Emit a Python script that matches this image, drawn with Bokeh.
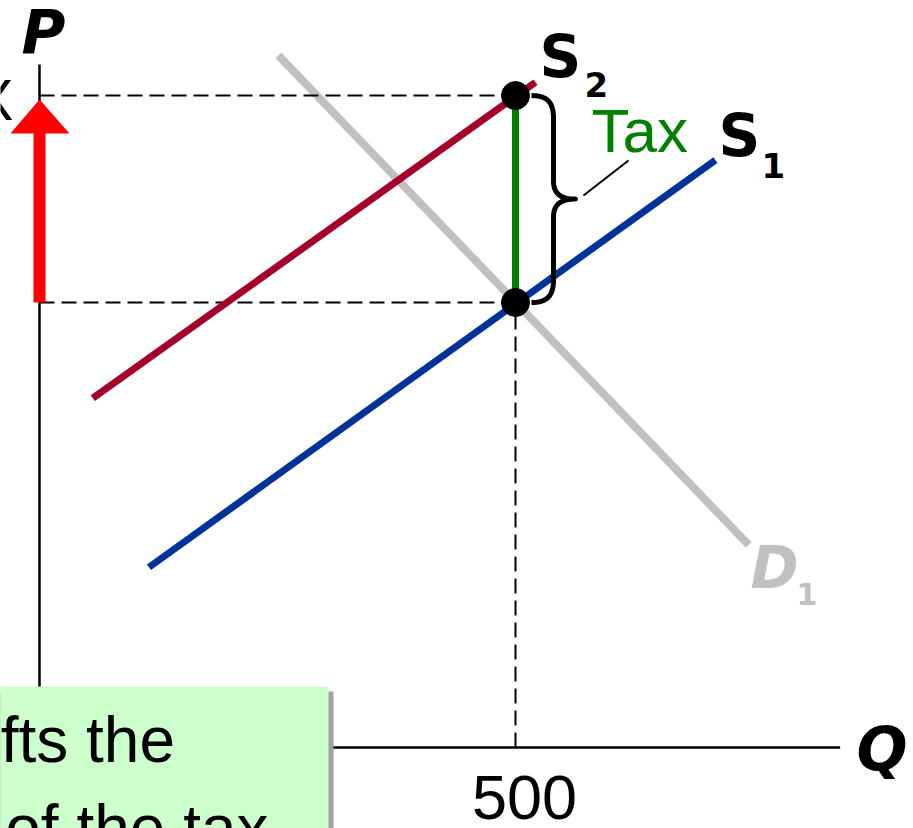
import numpy as np
from bokeh.plotting import figure
from bokeh.models import Range1d
from bokeh.core.properties import value
from bokeh.embed import file_html
from bokeh.resources import INLINE

# ---- data (Q = quantity, P = price) ----
s1_q = [115, 710]
s1_p = [40.5, 132.0]
s2_q = [56, 521]
s2_p = [78.5, 149.5]
d1_q = [251, 745]
d1_p = [155.5, 45.5]
q_eq = 500
p_before = 100.0
p_after = 146.5
q_tick_labels = ["500"]
q_axis_end = 841
p_axis_end = 153.5

# ---- layout helpers (picture pixels -> data units) ----
QPX = 0.952   # px per Q unit
PPX = 4.45    # px per P unit
X0, Y0 = 39, 747   # picture px of origin


def qx(px):
    return (px - X0) / QPX


def py(px):
    return (Y0 - px) / PPX


W, H = 913, 828
p = figure(width=W, height=H,
           x_range=Range1d(qx(0), qx(W)),
           y_range=Range1d(py(H), py(0)),
           output_backend="svg", toolbar_location=None,
           x_axis_location=None, y_axis_location=None,
           min_border=0, outline_line_color=None)
p.grid.visible = False
p.background_fill_color = "white"
p.border_fill_color = "white"

# axes
p.line([0, 0], [0, p_axis_end], line_color="black", line_width=2.5)
p.line([0, q_axis_end], [0, 0], line_color="black", line_width=2.5)

# demand
p.line(d1_q, d1_p, line_color="#c0c0c0", line_width=8)

# dashed guides
dash = "15 7"
p.line([0, q_eq], [p_after, p_after], line_color="black", line_width=2, line_dash=dash)
p.line([0, q_eq], [p_before, p_before], line_color="black", line_width=2, line_dash=dash)
p.line([q_eq, q_eq], [0, p_before], line_color="black", line_width=2, line_dash=dash)

# supply curves
p.line(s2_q, s2_p, line_color="#a5002a", line_width=7)
p.line(s1_q, s1_p, line_color="#003399", line_width=7)

# tax wedge
p.line([q_eq, q_eq], [p_before, p_after], line_color="#008000", line_width=7)
p.scatter([q_eq, q_eq], [p_before, p_after], size=28, color="black")


# brace to the right of the tax wedge (built in pixel offsets from the wedge)
def cubic(p0, c1, c2, p3, n=20):
    t = np.linspace(0, 1, n)[:, None]
    pts = ((1 - t) ** 3) * np.array(p0) + 3 * ((1 - t) ** 2) * t * np.array(c1) \
        + 3 * (1 - t) * t ** 2 * np.array(c2) + t ** 3 * np.array(p3)
    return pts


top_px = Y0 - p_after * PPX
bot_px = Y0 - p_before * PPX
mid_px = (top_px + bot_px) / 2
ex = X0 + q_eq * QPX
a, b, c = ex + 16, ex + 38, ex + 60
segs = [
    cubic((a, top_px), (a + 17, top_px), (b, top_px + 8), (b, top_px + 23)),
    cubic((b, top_px + 23), (b, top_px + 50), (b, mid_px - 30), (b, mid_px - 18)),
    cubic((b, mid_px - 18), (b, mid_px - 4), (b + 9, mid_px), (c, mid_px)),
    cubic((c, mid_px), (b + 9, mid_px), (b, mid_px + 4), (b, mid_px + 18)),
    cubic((b, mid_px + 18), (b, mid_px + 30), (b, bot_px - 50), (b, bot_px - 23)),
    cubic((b, bot_px - 23), (b, bot_px - 8), (a + 17, bot_px), (a, bot_px)),
]
pts = np.vstack(segs)
p.line(qx(pts[:, 0]), py(pts[:, 1]), line_color="black", line_width=5, line_join="round")
# leader line to "Tax"
p.line([qx(583), qx(628)], [py(195), py(160)], line_color="black", line_width=2)

# red arrow on the price axis
p.line([0, 0], [p_before, py(132)], line_color="#ff0000", line_width=12)
p.patch([qx(10), qx(69), 0], [py(133), py(133), py(99)], color="#ff0000", line_width=0)

# labels
dv = value("DejaVu Sans")
ls = value("Liberation Sans")


def label(x_px, base_px, txt, fs, font, style="normal", align="left", color="black"):
    # place by the text's baseline in picture pixels
    p.text([qx(x_px)], [py(base_px - 0.39 * fs)], text=[txt], text_font=font,
           text_font_style=style, text_font_size=f"{fs}px", text_align=align,
           text_baseline="alphabetic", text_color=color)


label(43, 55, "P", 60, dv, "bold italic", "center")
label(856, 772, "Q", 60, dv, "bold italic")
label(13, 122, "X", 58, ls, align="right")
label(539, 79, "S", 58, dv, "bold")
label(584, 97, "2", 34, dv, "bold")
label(718, 158, "S", 58, dv, "bold")
label(761, 178, "1", 34, dv, "bold")
label(750, 590, "D", 58, dv, "bold italic", color="#c0c0c0")
label(796, 605, "1", 30, dv, "bold", color="#c0c0c0")
label(591, 154, "Tax", 62, ls, color="#008000")
p.text([q_eq + qx(524) - qx(515)], [py(822 - 0.39 * 63)], text=q_tick_labels, text_font=ls,
       text_font_size="63px", text_align="center", text_baseline="alphabetic")

# explanatory box (cut by the page edge)
p.quad(left=[qx(-40)], right=[qx(333)], top=[py(691)], bottom=[py(900)],
       fill_color="#a0a0a0", line_color=None)
p.quad(left=[qx(-40)], right=[qx(328)], top=[py(686)], bottom=[py(900)],
       fill_color="#ccffcc", line_color=None)
label(178, 764, "A tax shifts the", 64, ls, align="right")
label(268, 852, "amount of the tax", 64, ls, align="right")

open("out.html", "w").write(file_html(p, INLINE))
